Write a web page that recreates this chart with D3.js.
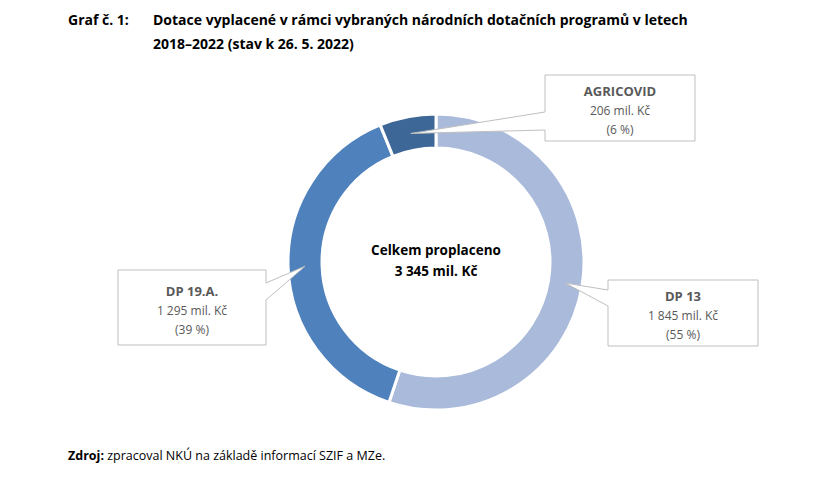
<!DOCTYPE html>
<html><head><meta charset="utf-8">
<script src="https://cdn.jsdelivr.net/npm/d3@7"></script>
<style>body{margin:0;background:#fff;font-family:"Open Sans","Noto Sans",sans-serif;}</style>
</head><body>
<script>
var names = ["DP 13", "DP 19.A.", "AGRICOVID"];
var values = [1845, 1295, 206];
var amountLabels = ["1 845 mil. Kč", "1 295 mil. Kč", "206 mil. Kč"];
var pctLabels = ["(55 %)", "(39 %)", "(6 %)"];
var colors = ["#a9badb", "#4f81bd", "#3c6797"];

var width = 840, height = 480, cx = 436, cy = 262, outerR = 148, innerR = 114;

var svg = d3.select("body").append("svg").attr("width", width).attr("height", height);

var t = svg.append("text").attr("font-weight", "bold").attr("font-size", 14).attr("fill", "#000");
t.append("tspan").attr("x", 68).attr("y", 25).text("Graf č. 1:");
t.append("tspan").attr("x", 153).attr("y", 25).text("Dotace vyplacené v rámci vybraných národních dotačních programů v letech");
t.append("tspan").attr("x", 153).attr("y", 49).text("2018–2022 (stav k 26. 5. 2022)");

var pie = d3.pie().sort(null)(values);
var arc = d3.arc().innerRadius(innerR).outerRadius(outerR);
var g = svg.append("g").attr("transform", "translate(" + cx + "," + cy + ")");
g.selectAll("path").data(pie).enter().append("path")
    .attr("d", arc)
    .attr("fill", function (d, i) { return colors[i]; })
    .attr("stroke", "#fff").attr("stroke-width", 3);

g.append("text").attr("text-anchor", "middle").attr("font-weight", "bold").attr("font-size", 13.5)
    .selectAll("tspan").data(["Celkem proplaceno", "3 345 mil. Kč"]).enter().append("tspan")
    .attr("x", 0).attr("y", function (d, i) { return -7 + i * 21; }).text(function (d) { return d; });

// callout boxes: box, wedge side and wedge points
var boxes = [
    {x: 608, y: 280, w: 150, h: 66, side: "left", w1: 290, w2: 306},
    {x: 118, y: 270, w: 148, h: 75, side: "right", w1: 283, w2: 300},
    {x: 545, y: 75, w: 150, h: 66, side: "left", w1: 112, w2: 130}
];
var midR = (innerR + outerR) / 2;
boxes.forEach(function (b, i) {
    var a = (pie[i].startAngle + pie[i].endAngle) / 2;
    var px = cx + Math.sin(a) * midR, py = cy - Math.cos(a) * midR;
    var p = d3.path();
    if (b.side === "left") {
        p.moveTo(b.x, b.y); p.lineTo(b.x + b.w, b.y); p.lineTo(b.x + b.w, b.y + b.h); p.lineTo(b.x, b.y + b.h);
        p.lineTo(b.x, b.w2); p.lineTo(px, py); p.lineTo(b.x, b.w1); p.closePath();
    } else {
        p.moveTo(b.x, b.y); p.lineTo(b.x + b.w, b.y); p.lineTo(b.x + b.w, b.w1); p.lineTo(px, py);
        p.lineTo(b.x + b.w, b.w2); p.lineTo(b.x + b.w, b.y + b.h); p.lineTo(b.x, b.y + b.h); p.closePath();
    }
    svg.append("path").attr("d", p.toString()).attr("fill", "#fff").attr("stroke", "#bfbfbf").attr("stroke-width", 1);
    var tx = b.x + b.w / 2, ty = b.y + (b.h - 54) / 2 + 15;
    var txt = svg.append("text").attr("text-anchor", "middle").attr("fill", "#595959").attr("font-size", 12);
    txt.append("tspan").attr("x", tx).attr("y", ty).attr("font-weight", "bold").attr("font-size", 13).text(names[i]);
    txt.append("tspan").attr("x", tx).attr("y", ty + 19).text(amountLabels[i]);
    txt.append("tspan").attr("x", tx).attr("y", ty + 38).text(pctLabels[i]);
});

var s = svg.append("text").attr("x", 68).attr("y", 460).attr("font-size", 12.5).attr("fill", "#000");
s.append("tspan").attr("font-weight", "bold").text("Zdroj:");
s.append("tspan").text(" zpracoval NKÚ na základě informací SZIF a MZe.");
</script>
</body></html>
